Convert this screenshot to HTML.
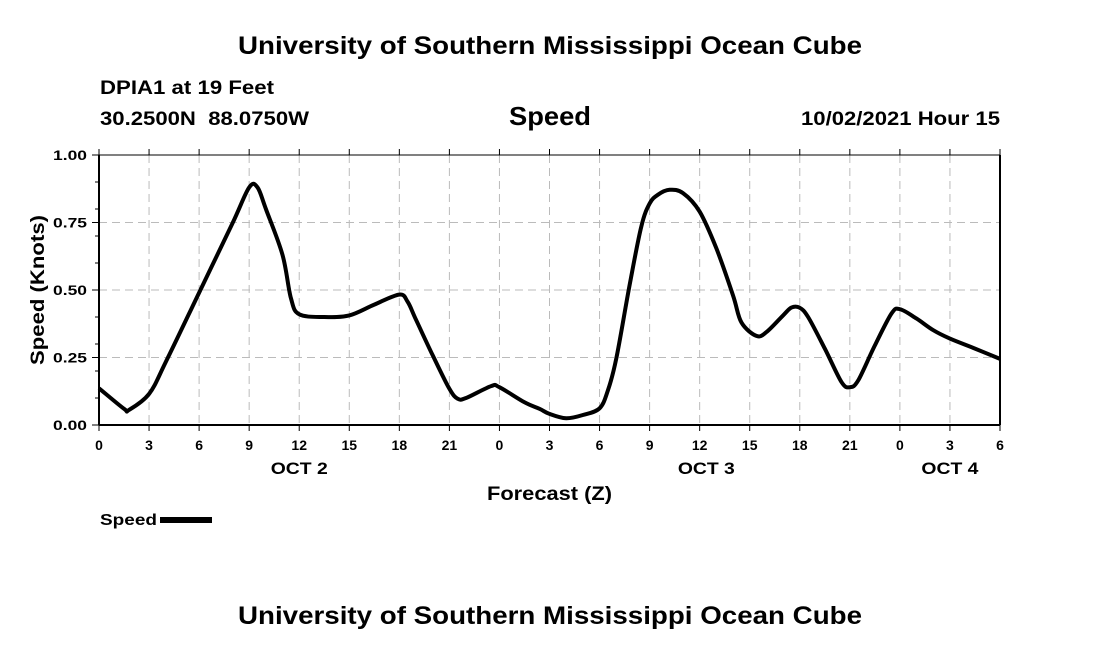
<!DOCTYPE html>
<html><head><meta charset="utf-8"><style>
body{margin:0;background:#fff;}
svg text{font-family:"Liberation Sans",sans-serif;font-weight:bold;fill:#000;}
</style></head><body>
<svg id="chart" width="1100" height="650" viewBox="0 0 1100 650" xmlns="http://www.w3.org/2000/svg">
<rect width="1100" height="650" fill="#fff"/>
<text x="238" y="54" font-size="25" textLength="624" lengthAdjust="spacingAndGlyphs">University of Southern Mississippi Ocean Cube</text>
<text x="100" y="94" font-size="19" textLength="174" lengthAdjust="spacingAndGlyphs">DPIA1 at 19 Feet</text>
<text x="100" y="125" font-size="19" textLength="209" lengthAdjust="spacingAndGlyphs" xml:space="preserve">30.2500N  88.0750W</text>
<text x="509" y="125" font-size="26" textLength="82" lengthAdjust="spacingAndGlyphs">Speed</text>
<text x="801" y="125" font-size="19" textLength="199" lengthAdjust="spacingAndGlyphs">10/02/2021 Hour 15</text>
<g id="grid"></g>
<g id="axes"></g>
<path id="line" fill="none" stroke="#000" stroke-width="4" stroke-linejoin="round"/>
<text transform="translate(44,365) rotate(-90)" font-size="19" textLength="150" lengthAdjust="spacingAndGlyphs">Speed (Knots)</text>
<text x="487" y="500" font-size="19" textLength="125" lengthAdjust="spacingAndGlyphs">Forecast (Z)</text>
<text x="100" y="525" font-size="16" textLength="57" lengthAdjust="spacingAndGlyphs">Speed</text>
<rect x="160" y="517" width="52" height="6" fill="#000"/>
<text x="238" y="624" font-size="25" textLength="624" lengthAdjust="spacingAndGlyphs">University of Southern Mississippi Ocean Cube</text>
</svg>
<script>
const hours=[0,1.5,1.8,3,4,6,8,9,9.5,10,11,11.5,12,13.5,15,16.5,18,18.5,19,20,21,21.5,22,23.5,24,25.5,26.4,27,28,29,30,30.5,31,31.8,32.5,33,33.5,34.2,35,36,37,38,38.5,39.4,40,41,41.5,42,42.5,43.5,44.5,45,45.5,46.5,47.5,48,49,50,51,52.5,54];
const speeds=[0.136,0.06,0.056,0.115,0.233,0.49,0.747,0.88,0.88,0.80,0.63,0.47,0.41,0.40,0.406,0.446,0.483,0.456,0.39,0.258,0.134,0.097,0.10,0.144,0.14,0.084,0.06,0.041,0.025,0.037,0.062,0.128,0.245,0.518,0.735,0.82,0.853,0.871,0.859,0.79,0.654,0.48,0.38,0.33,0.344,0.406,0.435,0.434,0.40,0.283,0.159,0.14,0.165,0.295,0.413,0.429,0.394,0.351,0.32,0.283,0.245];
const xTickLabels=["0","3","6","9","12","15","18","21","0","3","6","9","12","15","18","21","0","3","6"];
const yTickValues=[0,0.25,0.5,0.75,1.0];
const yTickLabels=["0.00","0.25","0.50","0.75","1.00"];
const dayLabels=["OCT 2","OCT 3","OCT 4"];
const dayHours=[12,36.4,51];
const X0=99,X1=1000,Y0=425,Y1=155,HMAX=54;
const sx=h=>X0+(X1-X0)*h/HMAX, sy=v=>Y0-(Y0-Y1)*v;
const NS="http://www.w3.org/2000/svg";
function mk(tag,attrs,parent){const e=document.createElementNS(NS,tag);for(const k in attrs)e.setAttribute(k,attrs[k]);parent.appendChild(e);return e;}
const grid=document.getElementById('grid'),axes=document.getElementById('axes');
xTickLabels.forEach((t,i)=>{const x=sx(i*3);
 if(i>0&&i<xTickLabels.length-1){const g=mk('line',{x1:x,x2:x,y1:Y1,y2:Y0,stroke:'#bbb','stroke-width':1,'stroke-dasharray':'8,5'},grid);
 }
 const tk=mk('line',{x1:x,x2:x,y1:Y0,y2:Y0+6,stroke:'#000','stroke-width':1},axes);
 
 const tt=mk('line',{x1:x,x2:x,y1:Y1-6,y2:Y1,stroke:'#000','stroke-width':1},axes);
 
 const lb=mk('text',{x:x,y:450,'font-size':14,'text-anchor':'middle'},axes);lb.textContent=t;
 
});
dayLabels.forEach((d,i)=>{const lb=mk('text',{x:sx(dayHours[i]),y:474,'font-size':17,'text-anchor':'middle',textLength:57,lengthAdjust:'spacingAndGlyphs'},axes);lb.textContent=d;
 });
yTickValues.forEach((v,i)=>{const y=sy(v);
 if(v>0&&v<1){const g=mk('line',{x1:X0,x2:X1,y1:y,y2:y,stroke:'#bbb','stroke-width':1,'stroke-dasharray':'8,5'},grid);
 }
 const tk=mk('line',{x1:X0-7,x2:X0,y1:y,y2:y,stroke:'#000','stroke-width':1},axes);
 
 const lb=mk('text',{x:87,y:y+5,'font-size':14,'text-anchor':'end',textLength:34,lengthAdjust:'spacingAndGlyphs'},axes);lb.textContent=yTickLabels[i];
 
});
for(let k=1;k<10;k++){const y=sy(k/10);const tk=mk('line',{x1:X0-4,x2:X0,y1:y,y2:y,stroke:'#000','stroke-width':1},axes);
 }
const frame=mk('rect',{x:X0,y:Y1,width:X1-X0,height:Y0-Y1,fill:'none',stroke:'#000','stroke-width':1},axes);

const la=mk('line',{x1:X0,x2:X0,y1:Y1,y2:Y0,stroke:'#000','stroke-width':2},axes);

const ba=mk('line',{x1:X0,x2:X1,y1:Y0,y2:Y0,stroke:'#000','stroke-width':2},axes);

const ra=mk('line',{x1:X1,x2:X1,y1:Y1,y2:Y0,stroke:'#000','stroke-width':2},axes);

// smooth curve through points (Catmull-Rom -> cubic Bezier)
const P=hours.map((h,i)=>[sx(h),sy(speeds[i])]);
let d='M'+P[0][0].toFixed(1)+' '+P[0][1].toFixed(1);
for(let i=0;i<P.length-1;i++){const p0=P[Math.max(0,i-1)],p1=P[i],p2=P[i+1],p3=P[Math.min(P.length-1,i+2)];
 const c1=[p1[0]+(p2[0]-p0[0])/6,p1[1]+(p2[1]-p0[1])/6],c2=[p2[0]-(p3[0]-p1[0])/6,p2[1]-(p3[1]-p1[1])/6];
 d+=' C'+c1.map(v=>v.toFixed(1)).join(' ')+' '+c2.map(v=>v.toFixed(1)).join(' ')+' '+p2.map(v=>v.toFixed(1)).join(' ');}
document.getElementById('line').setAttribute('d',d);
</script>
</body></html>
